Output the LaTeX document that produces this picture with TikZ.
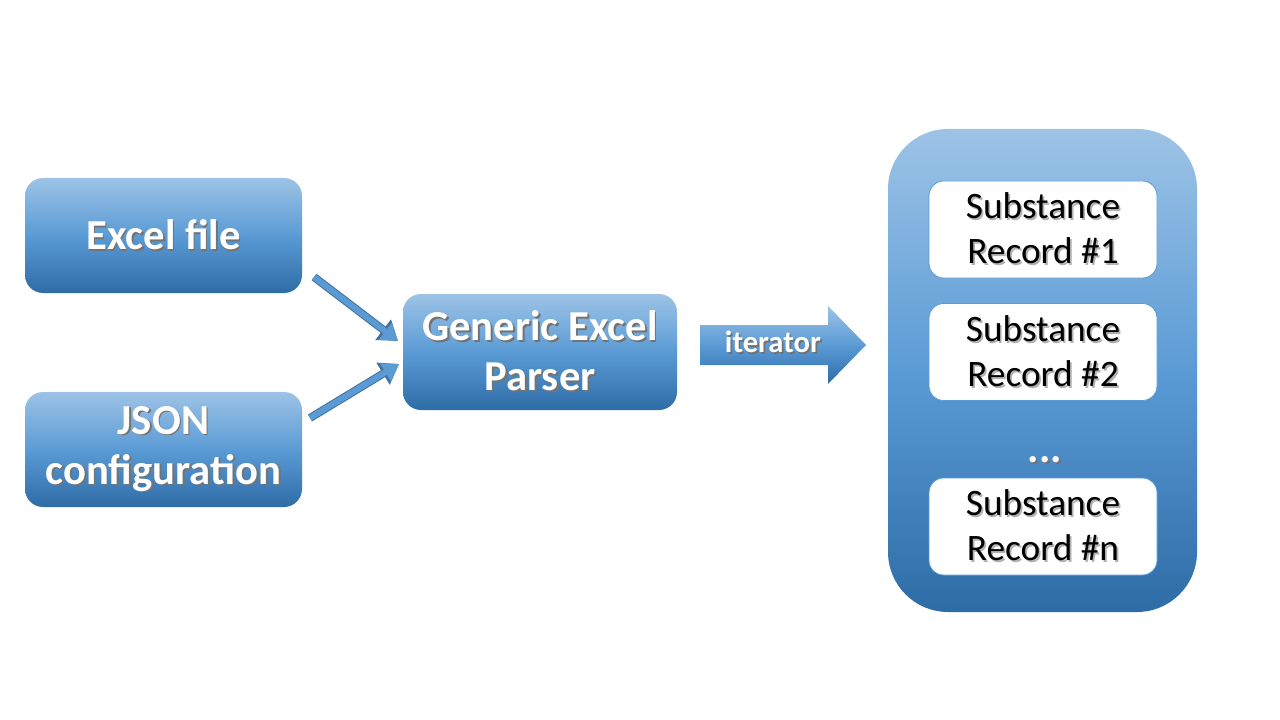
\documentclass[tikz,border=0pt]{standalone}
\usepackage{fontspec}
\setmainfont{Carlito}
\usepackage{xcolor}
\usetikzlibrary{arrows.meta, positioning}

\definecolor{boxtop}{HTML}{9DC3E6}
\definecolor{boxmid}{HTML}{5B9BD5}
\definecolor{boxbot}{HTML}{2E6CA6}
\definecolor{arrowline}{HTML}{41719C}

\newdimen\px \px=0.75pt
\newcommand{\shadowtext}[2][black!55]{\makebox[0pt][l]{\hspace{1.3pt}\raisebox{-1.3pt}{\textcolor{#1}{#2}}}#2}

\begin{document}
\begin{tikzpicture}[
                x=0.75pt, y=-0.75pt,
                inputbox/.style={rectangle, rounded corners=13.5pt, top color=boxtop, bottom color=boxbot, middle color=boxmid, text=white, font=\fontsize{32}{37.5}\selectfont\bfseries, align=center, inner sep=0pt, minimum width=277\px, minimum height=115\px},
                container/.style={rectangle, rounded corners=45pt, top color=boxtop, bottom color=boxbot, middle color=boxmid, minimum width=309\px, minimum height=483\px},
                record/.style={rectangle, rounded corners=11pt, fill=white, draw=boxmid, line width=0.6pt, text=black, font=\fontsize{28}{33.75}\selectfont, align=center, inner sep=0pt, minimum width=228\px, minimum height=97\px},
                blockarrow/.style={draw=boxmid, line width=4.5pt, -{Triangle[length=12pt, width=15pt]}, preaction={draw=arrowline, line width=6pt, -{Triangle[length=14pt, width=18.5pt]}}}
                ]
                % Canvas
                \useasboundingbox[fill=white] (0,0) rectangle (1280,720);

                % Inputs and parser
                \node[inputbox] (excel) at (163.5,235.5) {\shadowtext{Excel file}};
                \node[inputbox] (json) at (163.5,449.5) {\shadowtext{JSON}\\\shadowtext{configuration}};
                \node[inputbox, minimum width=274\px, minimum height=116\px] (parser) at (540,352) {\shadowtext{Generic Excel}\\\shadowtext{Parser}};

                % Arrows into the parser
                \coordinate (excelout) at (314,277);
                \coordinate (jsonout) at (310,418);
                \coordinate (parserin1) at (398,341);
                \coordinate (parserin2) at (399,364);
                \draw[blockarrow] (excelout) -- (parserin1);
                \draw[blockarrow] (jsonout) -- (parserin2);

                % Iterator arrow
                \shade[top color=boxtop, bottom color=boxbot, middle color=boxmid] (700,325) -- (828,325) -- (828,306) -- (866,345) -- (828,384) -- (828,365) -- (700,365) -- cycle;
                \node[text=white, font=\fontsize{23}{27}\selectfont\bfseries] (iter) at (773,343) {\shadowtext{iterator}};

                % Records
                \node[container] (records) at (1042.5,370.5) {};
                \node[record] (rec1) at (1043,229.5) {\shadowtext[black!30]{Substance}\\\shadowtext[black!30]{Record \#1}};
                \node[record] (rec2) at (1043,352) {\shadowtext[black!30]{Substance}\\\shadowtext[black!30]{Record \#2}};
                \node[text=white, font=\fontsize{32}{37.5}\selectfont\bfseries] (dots) at (1045,461) {\shadowtext{...}};
                \node[record] (recn) at (1043,526.5) {\shadowtext[black!30]{Substance}\\\shadowtext[black!30]{Record \#n}};

                \end{tikzpicture}
\end{document}
